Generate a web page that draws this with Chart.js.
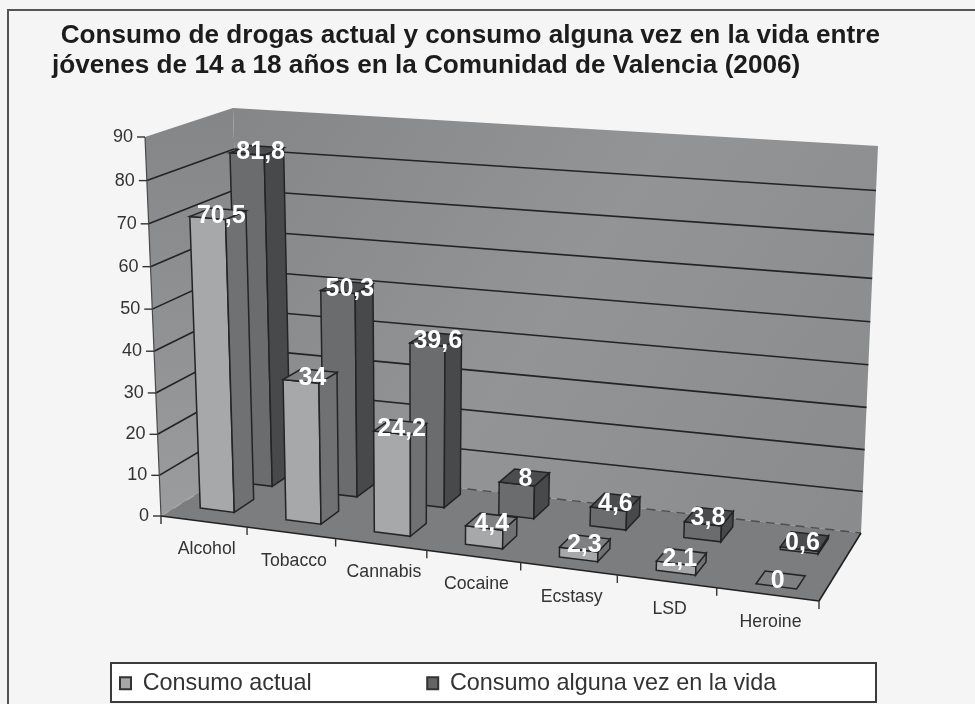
<!DOCTYPE html>
<html>
<head>
<meta charset="utf-8">
<style>
  html, body { margin: 0; padding: 0; background: #f5f5f5; }
  canvas { display: block; }
</style>
<script src="https://cdn.jsdelivr.net/npm/chart.js@4"></script>
</head>
<body>
<canvas id="chart" width="975" height="704"></canvas>
<script>
const categories = ['Alcohol', 'Tobacco', 'Cannabis', 'Cocaine', 'Ecstasy', 'LSD', 'Heroine'];
const consumoActual = [70.5, 34, 24.2, 4.4, 2.3, 2.1, 0];
const consumoAlguna = [81.8, 50.3, 39.6, 8, 4.6, 3.8, 0.6];
const yTicks = [0, 10, 20, 30, 40, 50, 60, 70, 80, 90];

// corners of the box as photographed: front-left, front-right, back-right, back-left
const floorQuad = [[161, 516], [819, 601], [861, 533], [244, 464]];
const topQuad = [[145, 137], [835, 186], [878, 146], [233, 108]];
// depth of each series on the floor, 0 = front edge, 1 = back wall.
// near/far are given at the left end and right end of the floor
const depthSlots = [
    { near: [0.2, 0.11], far: [0.44, 0.29], span: 0.40, shift: -0.002 },
    { near: [0.68, 0.62], far: [0.92, 0.86], span: 0.39, shift: -0.003 }
];

const faces = [
    { front: '#a7a8aa', side: '#707173', top: '#7f8082' },
    { front: '#6b6c6e', side: '#48494b', top: '#4b4c4e' }
];

function quadToMatrix(q) {
    const [[x0, y0], [x1, y1], [x2, y2], [x3, y3]] = q;
    const sx = x0 - x1 + x2 - x3, sy = y0 - y1 + y2 - y3;
    const dx1 = x1 - x2, dx2 = x3 - x2, dy1 = y1 - y2, dy2 = y3 - y2;
    const den = dx1 * dy2 - dx2 * dy1;
    const g = (sx * dy2 - dx2 * sy) / den;
    const h = (dx1 * sy - sx * dy1) / den;
    return { a: x1 - x0 + g * x1, b: x3 - x0 + h * x3, c: x0, d: y1 - y0 + g * y1, e: y3 - y0 + h * y3, f: y0, g, h };
}

const floorM = quadToMatrix(floorQuad);
const topM = quadToMatrix(topQuad);

function applyMatrix(m, u, v) {
    const w = m.g * u + m.h * v + 1;
    return [(m.a * u + m.b * v + m.c) / w, (m.d * u + m.e * v + m.f) / w];
}

// u along categories, d into the depth, h height (all 0..1)
function project(u, d, h) {
    // the picture has less perspective along the edges than the plain quads give
    const low = applyMatrix(floorM, u + 0.07 * u * (1 - u), d);
    const high = applyMatrix(topM, u + 0.14 * u * (1 - u), d);
    const t = h / (h + (1 - h) * 1.04);
    return [low[0] + (high[0] - low[0]) * t, low[1] + (high[1] - low[1]) * t];
}

function poly(ctx, pts, fill, stroke, width) {
    ctx.beginPath();
    pts.forEach((p, i) => i ? ctx.lineTo(p[0], p[1]) : ctx.moveTo(p[0], p[1]));
    ctx.closePath();
    if (fill) { ctx.fillStyle = fill; ctx.fill(); }
    if (stroke) { ctx.strokeStyle = stroke; ctx.lineWidth = width || 1; ctx.stroke(); }
}

function line(ctx, a, b, color, width, dash) {
    ctx.beginPath();
    ctx.setLineDash(dash || []);
    ctx.moveTo(a[0], a[1]);
    ctx.lineTo(b[0], b[1]);
    ctx.strokeStyle = color;
    ctx.lineWidth = width;
    ctx.stroke();
    ctx.setLineDash([]);
}

function drawBox(ctx) {
    const g1 = ctx.createLinearGradient(233, 108, 860, 530);
    g1.addColorStop(0, '#858688');
    g1.addColorStop(0.5, '#939496');
    g1.addColorStop(1, '#8a8b8d');
    const g2 = ctx.createLinearGradient(0, 120, 0, 516);
    g2.addColorStop(0, '#858688');
    g2.addColorStop(1, '#9b9c9e');
    poly(ctx, [project(0, 0, 0), project(0, 0, 1), project(0, 1, 1), project(0, 1, 0)], g2);
    poly(ctx, [project(0, 1, 0), project(0, 1, 1), project(1, 1, 1), project(1, 1, 0)], g1);
    poly(ctx, [project(0, 0, 0), project(1, 0, 0), project(1, 1, 0), project(0, 1, 0)], '#7c7d7f');
}

function drawGrid(ctx, yScale) {
    yScale.ticks.forEach(tick => {
        const h = heightOf(yScale, tick.value);
        if (h >= 1) return;
        const dash = h === 0 ? [9, 6] : null;
        const color = h === 0 ? '#4d4e50' : '#232325';
        const width = h === 0 ? 1.4 : 1.6;
        line(ctx, project(0, 0, h), project(0, 1, h), h === 0 ? '#a9a9a9' : color, width, dash);
        line(ctx, project(0, 1, h), project(1, 1, h), color, width, dash);
    });
}

function drawAxes(ctx, xScale, yScale) {
    line(ctx, project(0, 0, 0), project(0, 0, 1), '#4a4a4a', 1.2);
    line(ctx, project(0, 0, 0), project(1, 0, 0), '#222', 1.6);
    line(ctx, project(1, 0, 0), project(1, 1, 0), '#222', 1.6);

    ctx.fillStyle = '#333';
    ctx.font = '18px "Liberation Sans"';
    ctx.textAlign = 'right';
    ctx.textBaseline = 'middle';
    yScale.ticks.forEach(tick => {
        const p = project(0, 0, heightOf(yScale, tick.value));
        line(ctx, [p[0] - 8, p[1]], p, '#333', 1.4);
        ctx.fillText(tick.label, p[0] - 12, p[1]);
    });

    const n = categories.length;
    for (let i = 0; i <= n; i++) {
        const p = project(i / n, 0, 0);
        line(ctx, p, [p[0], p[1] + 8], '#333', 1.4);
    }
    ctx.font = '17.7px "Liberation Sans"';
    ctx.textAlign = 'center';
    ctx.fillStyle = '#333';
    categories.forEach((name, i) => {
        const p = project(unitOf(xScale, i), 0, 0);
        ctx.fillText(name, p[0] + 3, p[1] + 28);
    });
}

function heightOf(yScale, v) {
    return (yScale.bottom - yScale.getPixelForValue(v)) / (yScale.bottom - yScale.top);
}

function unitOf(xScale, i) {
    return (xScale.getPixelForValue(i) - xScale.left) / (xScale.right - xScale.left);
}

function depthAt(slot, u) {
    return [slot.near[0] + (slot.near[1] - slot.near[0]) * u, slot.far[0] + (slot.far[1] - slot.far[0]) * u];
}

function drawBar(ctx, u, slot, h, look) {
    const half = slot.span / categories.length / 2;
    const mid = u - 0.004 + 0.011 * u + slot.shift;
    const u0 = mid - half, u1 = mid + half;
    const [d0, d1] = depthAt(slot, u);
    const edge = '#242426';
    if (h > 0) {
        poly(ctx, [project(u0, d0, 0), project(u1, d0, 0), project(u1, d0, h), project(u0, d0, h)], look.front, edge, 1.5);
        poly(ctx, [project(u1, d0, 0), project(u1, d1, 0), project(u1, d1, h), project(u1, d0, h)], look.side, edge, 1.5);
    }
    poly(ctx, [project(u0, d0, h), project(u1, d0, h), project(u1, d1, h), project(u0, d1, h)], look.top, edge, 1.5);
}

const box3d = {
    id: 'box3d',
    afterLayout(chart) {
        chart.titleBlock.left = 52;
        chart.titleBlock.right = 952;
        chart.titleBlock.top = 21;
        chart.legend.left = 4.5;
        chart.legend.top = 556;
    },
    beforeDraw(chart) {
        const ctx = chart.ctx;
        ctx.save();
        ctx.fillStyle = '#f5f5f5';
        ctx.fillRect(0, 0, chart.width, chart.height);
        ctx.strokeStyle = '#555';
        ctx.lineWidth = 2;
        ctx.strokeRect(8, 10, 990, 720);
        ctx.fillStyle = '#fff';
        ctx.fillRect(111, 663, 765, 39);
        ctx.strokeStyle = '#3c3c3c';
        ctx.strokeRect(111, 663, 765, 39);
        ctx.restore();
    },
    beforeDatasetsDraw(chart) {
        const ctx = chart.ctx;
        const xScale = chart.scales.x, yScale = chart.scales.y;
        ctx.save();
        drawBox(ctx);
        drawGrid(ctx, yScale);
        drawAxes(ctx, xScale, yScale);
        // back series first so the front one sits over it
        [1, 0].forEach(s => {
            chart.data.datasets[s].data.forEach((v, i) => {
                drawBar(ctx, unitOf(xScale, i), depthSlots[s], heightOf(yScale, v), faces[s]);
            });
        });
        ctx.font = 'bold 25px "Liberation Sans"';
        ctx.fillStyle = '#fff';
        ctx.textAlign = 'center';
        ctx.textBaseline = 'middle';
        [1, 0].forEach(s => {
            chart.data.datasets[s].data.forEach((v, i) => {
                const u = unitOf(xScale, i);
                const [d0, d1] = depthAt(depthSlots[s], u);
                const p = project(u, (d0 + d1) / 2, heightOf(yScale, v));
                ctx.fillText(String(v).replace('.', ','), p[0], p[1] + 2);
            });
        });
        ctx.restore();
    },
    beforeDatasetDraw() {
        return false; // the flat bars are replaced by the boxes above
    }
};

new Chart(document.getElementById('chart'), {
    type: 'bar',
    data: {
        labels: categories,
        datasets: [
            { label: 'Consumo actual', data: consumoActual, backgroundColor: '#a6a7a9', borderColor: '#333', borderWidth: 2 },
            { label: 'Consumo alguna vez en la vida', data: consumoAlguna, backgroundColor: '#636466', borderColor: '#333', borderWidth: 2 }
        ]
    },
    options: {
        responsive: false,
        animation: false,
        plugins: {
            title: {
                display: true,
                align: 'start',
                text: ['\u2004Consumo de drogas actual y consumo alguna vez en la vida entre',
                       'jóvenes de 14 a 18 años en la Comunidad de Valencia (2006)'],
                color: '#1c1c1c',
                font: { family: '"Liberation Sans"', size: 26.15, weight: 'bold', lineHeight: 1.15 },
                padding: 0
            },
            legend: {
                position: 'bottom',
                align: 'start',
                maxHeight: 40,
                labels: {
                    boxWidth: 11,
                    boxHeight: 12,
                    padding: 115.5,
                    color: '#333',
                    font: { family: '"Liberation Sans"', size: 23.4 }
                }
            },
            tooltip: { enabled: false }
        },
        scales: {
            x: { display: false },
            y: { display: false, min: yTicks[0], max: yTicks[yTicks.length - 1], ticks: { stepSize: 10 } }
        }
    },
    plugins: [box3d]
});
</script>
</body>
</html>
